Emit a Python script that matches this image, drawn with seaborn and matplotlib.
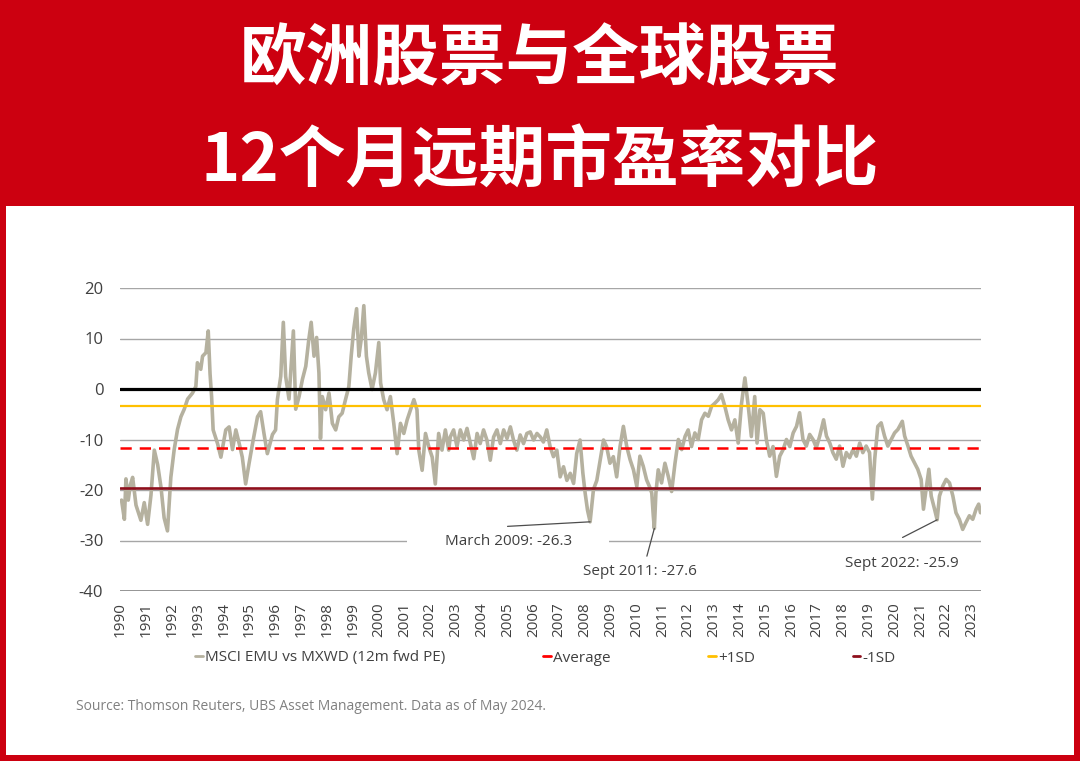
import matplotlib
matplotlib.use("Agg")
import matplotlib.pyplot as plt
from matplotlib.patches import Rectangle
from matplotlib.lines import Line2D
import seaborn as sns
import pandas as pd

# ---------------- data ----------------
years = [
    1991.04, 1991.15, 1991.21, 1991.30, 1991.38, 1991.47, 1991.60, 1991.79, 1991.92, 1992.05,
    1992.18, 1992.31, 1992.44, 1992.57, 1992.69, 1992.82, 1992.95, 1993.08, 1993.21, 1993.34,
    1993.47, 1993.60, 1993.79, 1993.92, 1993.98, 1994.11, 1994.18, 1994.31, 1994.40, 1994.47,
    1994.53, 1994.59, 1994.76, 1994.89, 1995.08, 1995.21, 1995.34, 1995.47, 1995.60, 1995.72,
    1995.85, 1995.98, 1996.11, 1996.31, 1996.43, 1996.56, 1996.69, 1996.89, 1997.01, 1997.08,
    1997.21, 1997.31, 1997.40, 1997.53, 1997.70, 1997.79, 1997.92, 1998.05, 1998.18, 1998.30,
    1998.39, 1998.50, 1998.60, 1998.69, 1998.75, 1998.82, 1998.95, 1999.08, 1999.21, 1999.34,
    1999.46, 1999.59, 1999.72, 1999.85, 1999.94, 2000.04, 2000.15, 2000.24, 2000.33, 2000.43,
    2000.53, 2000.62, 2000.75, 2000.88, 2001.01, 2001.08, 2001.20, 2001.33, 2001.46, 2001.59,
    2001.72, 2001.85, 2001.98, 2002.11, 2002.24, 2002.37, 2002.49, 2002.56, 2002.69, 2002.82,
    2002.95, 2003.08, 2003.20, 2003.33, 2003.46, 2003.59, 2003.72, 2003.78, 2003.91, 2004.04,
    2004.17, 2004.30, 2004.43, 2004.56, 2004.69, 2004.82, 2004.94, 2005.07, 2005.20, 2005.33,
    2005.46, 2005.59, 2005.72, 2005.85, 2005.98, 2006.11, 2006.23, 2006.36, 2006.49, 2006.62,
    2006.75, 2006.88, 2007.01, 2007.14, 2007.27, 2007.39, 2007.52, 2007.65, 2007.78, 2007.91,
    2008.04, 2008.17, 2008.30, 2008.43, 2008.56, 2008.68, 2008.81, 2008.92, 2009.01, 2009.10,
    2009.20, 2009.33, 2009.46, 2009.59, 2009.72, 2009.84, 2009.97, 2010.10, 2010.23, 2010.36,
    2010.49, 2010.62, 2010.75, 2010.88, 2011.01, 2011.13, 2011.26, 2011.39, 2011.50, 2011.59,
    2011.65, 2011.69, 2011.75, 2011.84, 2011.97, 2012.10, 2012.23, 2012.36, 2012.49, 2012.62,
    2012.75, 2012.88, 2013.00, 2013.13, 2013.26, 2013.39, 2013.52, 2013.65, 2013.78, 2013.91,
    2014.04, 2014.17, 2014.29, 2014.42, 2014.55, 2014.68, 2014.81, 2014.94, 2015.07, 2015.20,
    2015.33, 2015.45, 2015.58, 2015.67, 2015.78, 2015.91, 2016.03, 2016.16, 2016.29, 2016.42,
    2016.55, 2016.68, 2016.81, 2016.94, 2017.07, 2017.20, 2017.32, 2017.45, 2017.58, 2017.71,
    2017.84, 2017.97, 2018.10, 2018.25, 2018.36, 2018.49, 2018.61, 2018.74, 2018.87, 2019.00,
    2019.13, 2019.26, 2019.39, 2019.52, 2019.65, 2019.77, 2019.90, 2020.03, 2020.14, 2020.23,
    2020.35, 2020.48, 2020.61, 2020.74, 2020.87, 2021.00, 2021.13, 2021.30, 2021.39, 2021.52,
    2021.64, 2021.77, 2021.90, 2022.03, 2022.12, 2022.22, 2022.33, 2022.42, 2022.55, 2022.65,
    2022.74, 2022.87, 2023.00, 2023.13, 2023.26, 2023.38, 2023.51, 2023.64, 2023.77, 2023.90,
    2024.03, 2024.16, 2024.26, 2024.33,
]
relative_pe = [
    -22.0, -25.8, -17.8, -22.0, -19.0, -17.5, -23.0, -26.0, -22.5, -26.8,
    -21.0, -12.1, -15.0, -19.5, -25.5, -28.1, -17.5, -12.0, -8.0, -5.5,
    -4.0, -2.0, -0.8, 0.5, 5.2, 3.9, 6.5, 7.2, 11.5, 3.0,
    -1.5, -8.1, -10.8, -13.5, -8.1, -7.5, -12.0, -8.1, -10.8, -13.5,
    -18.8, -14.8, -11.0, -5.5, -4.5, -8.8, -12.8, -9.0, -8.1, -2.1,
    2.5, 13.2, 2.5, -2.0, 11.5, -4.0, -1.5, 1.9, 4.5, 9.9,
    13.2, 6.5, 10.2, 3.2, -9.8, -1.5, -4.1, -0.8, -6.8, -8.1,
    -5.5, -4.8, -2.1, 0.5, 6.5, 11.9, 15.9, 6.5, 9.9, 16.5,
    6.5, 3.2, -0.1, 3.2, 9.2, 1.2, -2.1, -4.1, -1.5, -6.8,
    -12.8, -6.8, -8.8, -6.1, -4.1, -2.1, -4.1, -12.1, -16.1, -8.8,
    -11.5, -13.5, -18.8, -8.8, -12.1, -8.1, -12.1, -9.5, -8.1, -11.4,
    -8.1, -10.1, -7.8, -10.8, -13.8, -8.8, -10.8, -8.1, -10.1, -14.1,
    -9.5, -8.1, -10.8, -8.1, -9.8, -7.5, -10.1, -12.1, -9.1, -10.8,
    -8.8, -8.5, -10.1, -8.8, -9.5, -10.5, -8.1, -11.4, -13.4, -12.1,
    -17.4, -15.4, -18.1, -16.7, -18.7, -12.8, -10.1, -16.7, -20.7, -24.0,
    -26.3, -19.9, -18.1, -14.1, -10.1, -11.4, -14.7, -13.4, -17.4, -11.4,
    -7.4, -11.4, -14.0, -16.0, -19.3, -13.3, -15.3, -18.0, -19.3, -20.6,
    -25.2, -27.6, -20.6, -16.0, -18.6, -14.7, -17.3, -20.3, -14.7, -10.0,
    -12.0, -9.4, -8.1, -11.4, -8.7, -10.0, -6.1, -4.8, -5.4, -3.4,
    -2.8, -2.1, -1.1, -3.4, -6.1, -8.1, -6.1, -10.7, -2.8, 2.2,
    -3.4, -9.4, -1.5, -10.7, -4.1, -4.8, -10.0, -13.3, -11.4, -17.3,
    -13.3, -12.0, -10.0, -11.4, -8.7, -7.4, -4.7, -10.0, -11.3, -9.0,
    -10.0, -11.6, -9.3, -6.1, -9.3, -10.7, -12.6, -13.9, -11.3, -15.3,
    -12.6, -13.6, -12.0, -13.3, -10.7, -12.6, -11.3, -12.6, -21.8, -13.9,
    -7.4, -6.7, -9.3, -11.3, -10.0, -8.7, -8.0, -6.4, -9.3, -11.3,
    -13.3, -14.6, -15.9, -17.9, -23.8, -19.9, -15.9, -21.2, -23.8, -25.9,
    -21.2, -19.2, -17.9, -18.6, -21.2, -24.5, -25.8, -27.8, -26.4, -25.1,
    -25.8, -23.8, -22.8, -24.5,
]
average_val = -11.6
plus_sd_val = -3.4
minus_sd_val = -19.7

tick_labels = [str(y) for y in range(1990, 2024)]
tick_positions = [y + 1 for y in range(1990, 2024)]  # year-end ticks

annotations = [
    ("March 2009: -26.3", 2009.20, -26.3),
    ("Sept 2011: -27.6", 2011.69, -27.6),
    ("Sept 2022: -25.9", 2022.65, -25.9),
]
legend_labels = ["MSCI EMU vs MXWD (12m fwd PE)", "Average", "+1SD", "-1SD"]
title_lines = ["欧洲股票与全球股票", "12个月远期市盈率对比"]
source_text = "Source: Thomson Reuters, UBS Asset Management. Data as of May 2024."

# ---------------- style ----------------
sns.set_theme(style="white")
plt.rcParams["font.family"] = ["Open Sans", "DejaVu Sans"]

RED_BG = "#CC0010"
SERIES_C = "#B5B19F"
AVG_C = "#FF0000"
PSD_C = "#FFC000"
MSD_C = "#8E0F1C"
GRID_C = "#A6A6A6"
TXT_C = "#404040"

W, H = 1080, 761
fig = plt.figure(figsize=(W / 100, H / 100), dpi=100, facecolor=RED_BG)
fig.patches.append(Rectangle((6 / W, 6 / H), 1068 / W, 549 / H, transform=fig.transFigure,
                             facecolor="white", edgecolor="none", zorder=-10))

# title
fig.text(0.5, 1 - 60 / H, title_lines[0], ha="center", va="center", color="white",
         fontsize=48, fontweight="bold", family=["Noto Sans CJK SC", "DejaVu Sans"])
fig.text(0.5, 1 - 161 / H, title_lines[1], ha="center", va="center", color="white",
         fontsize=48, fontweight="bold", family=["Noto Sans CJK SC", "DejaVu Sans"])

ax = fig.add_axes([120 / W, 1 - 591 / H, 861 / W, 303 / H])
ax.set_facecolor("white")
ax.set_zorder(1)

df = pd.DataFrame({"year": years, "value": relative_pe})
sns.lineplot(data=df, x="year", y="value", ax=ax, color=SERIES_C, lw=2.6, zorder=3)

# gridlines
for yv in [20, 10, -10, -20, -30]:
    ax.axhline(yv, color=GRID_C, lw=1.0, zorder=1)
ax.axhline(-40, color="#8C8C8C", lw=1.3, zorder=1)
ax.axhline(0, color="black", lw=2.3, zorder=4)

# reference lines
ax.axhline(plus_sd_val, color=PSD_C, lw=1.6, zorder=4)
ax.axhline(average_val, color=AVG_C, lw=1.8, ls=(0, (4.5, 3.2)), zorder=4)
ax.axhline(minus_sd_val, color=MSD_C, lw=1.9, zorder=4)

ax.set_xlim(1990.98, 2024.35)
ax.set_ylim(-40, 20)
ax.set_yticks(range(-40, 21, 10))
ax.set_yticklabels([str(v) for v in range(-40, 21, 10)], fontsize=12, color=TXT_C)
ax.set_xticks(tick_positions)
ax.set_xticklabels(tick_labels, rotation=90, fontsize=11, color=TXT_C)
ax.tick_params(axis="y", length=0, pad=12)
ax.tick_params(axis="x", length=0, pad=8)
ax.set_xlabel("")
ax.set_ylabel("")
for s in ax.spines.values():
    s.set_visible(False)

# annotations: (text position, leader start) in data coordinates
ann_layout = [
    ((2006.03, -30.2), (2006.00, -27.2)),
    ((2011.13, -36.1), (2011.40, -33.1)),
    ((2021.27, -34.5), (2021.31, -29.4)),
]
for (label, xd, yd), ((tx, ty), (lx, ly)) in zip(annotations, ann_layout):
    if label.startswith("March"):
        ax.text(tx, ty, "         " + label + "         ", ha="center", va="center",
                fontsize=11, color=TXT_C, zorder=2,
                bbox=dict(boxstyle="square,pad=0.1", facecolor="white", edgecolor="none"))
    else:
        ax.text(tx, ty, label, ha="center", va="center", fontsize=11, color=TXT_C, zorder=2)
    ax.annotate("", xy=(xd, yd), xytext=(lx, ly),
                arrowprops=dict(arrowstyle="-", color="#4D4D4D", lw=0.9,
                                shrinkA=0, shrinkB=0), zorder=5)

# legend
handles = [Line2D([], [], color=c, lw=2) for c in [SERIES_C, AVG_C, PSD_C, MSD_C]]
leg = fig.legend(handles, legend_labels, loc="center", bbox_to_anchor=(0.505, 1 - 658 / H),
                 ncol=4, frameon=False, handlelength=0.5, handletextpad=0.15,
                 columnspacing=6.4, fontsize=11)
for t in leg.get_texts():
    t.set_color(TXT_C)

fig.text(76 / W, 1 - 706 / H, source_text, ha="left", va="center", fontsize=10, color="#808080")

fig.savefig("out.png", dpi=100, facecolor=RED_BG)
